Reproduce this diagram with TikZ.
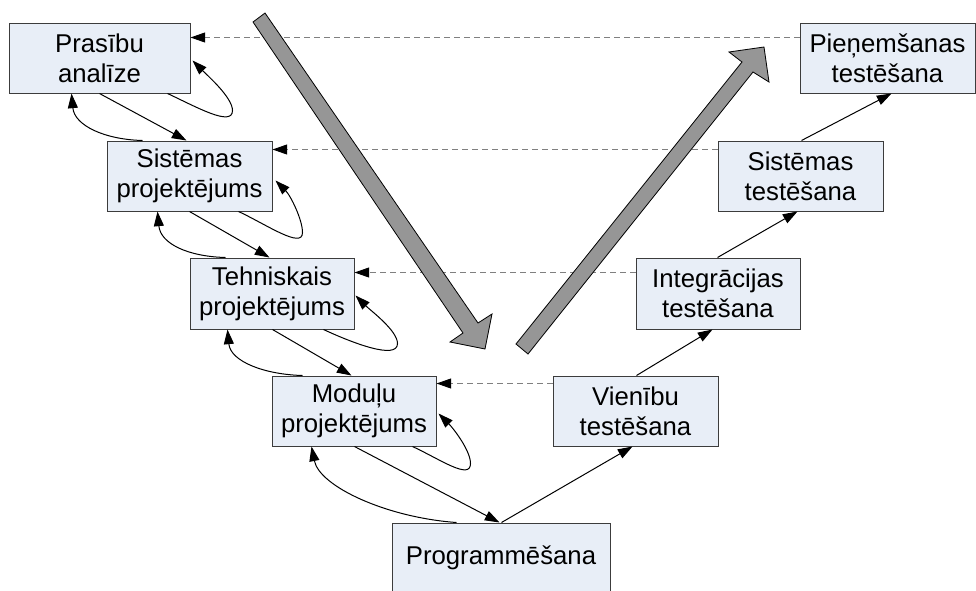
\documentclass[tikz,border=0pt]{standalone}
\usepackage{fontspec}
\setmainfont{Liberation Sans}
\usetikzlibrary{arrows.meta,calc}
\definecolor{boxfill}{RGB}{232,238,247}
\definecolor{boxline}{RGB}{60,60,60}
\definecolor{bigarrowgray}{RGB}{150,150,150}
\definecolor{dashline}{RGB}{128,128,128}
\begin{document}
\begin{tikzpicture}[x=0.75pt,y=-0.75pt,
  stage/.style={draw=boxline, fill=boxfill, line width=0.75pt, align=center,
    inner sep=0pt, minimum height=52.5pt, font=\fontsize{19.3pt}{22.3pt}\selectfont},
  flow/.style={draw=black, line width=0.75pt, -{Triangle[length=11pt,width=7.5pt]}},
  trace/.style={draw=dashline, line width=0.75pt, dash pattern=on 4.5pt off 3pt,
    -{Triangle[length=11pt,width=7.5pt,color=black,fill=black]}},
  bigarrow/.style={fill=bigarrowgray, draw=black, line width=0.6pt, line join=miter}]
\useasboundingbox (0,0) rectangle (976,590);

% development stages (left branch)
\node[stage, minimum width=135.75pt] (b1) at (99.5,58) {Prasību\\analīze};
\node[stage, minimum width=123.75pt] (b2) at (189.5,176) {Sistēmas\\projektējums};
\node[stage, minimum width=123pt, minimum height=53.25pt] (b3) at (272,293.5) {Tehniskais\\projektējums};
\node[stage, minimum width=123pt] (b4) at (354,411) {Moduļu\\projektējums};
\node[stage, minimum width=163.5pt] (b5) at (501,558) {Programmēšana};
% testing stages (right branch)
\node[stage, minimum width=123.75pt] (b6) at (635.5,411) {Vienību\\testēšana};
\node[stage, minimum width=123pt, minimum height=53.25pt] (b7) at (718,293.5) {Integrācijas\\testēšana};
\node[stage, minimum width=123.75pt] (b8) at (800.5,176) {Sistēmas\\testēšana};
\node[stage, minimum width=131.25pt] (b9) at (887.5,58) {Pieņemšanas\\testēšana};

% verification links between the two branches
\draw[trace] ($(b9.north west)+(0,15)$) -- ($(b1.north east)+(0,15)$);
\draw[trace] ($(b8.north west)+(0,9)$) -- ($(b2.north east)+(0,9)$);
\draw[trace] ($(b7.north west)+(0,15)$) -- ($(b3.north east)+(0,15)$);
\draw[trace] ($(b6.north west)+(0,8)$) -- ($(b4.north east)+(0,8)$);

% large direction arrows
\draw[bigarrow] (253,22) -- (265,13) -- (478,323) -- (492,314) -- (485,349)
  -- (450,342) -- (463,333) -- cycle;
\draw[bigarrow] (516,344) -- (742,62) -- (729,52) -- (764,47) -- (769,82)
  -- (753,72) -- (528,354) -- cycle;

% forward flow down the left branch
\draw[flow] ($(b1.south west)+(91,0)$) -- ($(b2.north west)+(80,0)$);
\draw[flow] ($(b2.south west)+(83,0)$) -- ($(b3.north west)+(80,0)$);
\draw[flow] ($(b3.south west)+(83,0)$) -- ($(b4.north west)+(80,0)$);
\draw[flow] ($(b4.south west)+(83,0)$) -- ($(b5.north west)+(108,0)$);

% feedback to the previous stage
\draw[flow] ($(b2.north west)+(36,0)$) .. controls +(-38,-1) and +(3,32) .. ($(b1.south west)+(63,0)$);
\draw[flow] ($(b3.north west)+(36,0)$) .. controls +(-38,-1) and +(3,32) .. ($(b2.south west)+(51,0)$);
\draw[flow] ($(b4.north west)+(31,0)$) .. controls +(-38,-1) and +(3,32) .. ($(b3.south west)+(38,0)$);
\draw[flow] ($(b5.north west)+(65,0)$) .. controls +(-70,-5) and +(8,40) .. ($(b4.south west)+(40,0)$);

% iteration within a stage
\draw[flow] ($(b1.south east)+(-23,0)$) .. controls +(28,13) and +(0,17) .. ($(b1.south east)+(42,17)$)
  .. controls +(0,-13) and +(15,15) .. ($(b1.south east)+(2,-33)$);
\draw[flow] ($(b2.south east)+(-34,0)$) .. controls +(28,13) and +(0,17) .. ($(b2.south east)+(30,21)$)
  .. controls +(0,-13) and +(15,15) .. ($(b2.south east)+(3,-31)$);
\draw[flow] ($(b3.south east)+(-31,0)$) .. controls +(28,13) and +(0,17) .. ($(b3.south east)+(43,14)$)
  .. controls +(0,-13) and +(15,15) .. ($(b3.south east)+(1,-34)$);
\draw[flow] ($(b4.south east)+(-24,0)$) .. controls +(28,13) and +(0,17) .. ($(b4.south east)+(34,17)$)
  .. controls +(0,-13) and +(15,15) .. ($(b4.south east)+(2,-33)$);

% forward flow up the right branch
\draw[flow] ($(b5.north west)+(110,0)$) -- ($(b6.south west)+(80,0)$);
\draw[flow] ($(b6.north west)+(84,0)$) -- ($(b7.south west)+(77,0)$);
\draw[flow] ($(b7.north west)+(82,0)$) -- ($(b8.south west)+(80,0)$);
\draw[flow] ($(b8.north west)+(84,0)$) -- ($(b9.south west)+(92,0)$);
\end{tikzpicture}
\end{document}
